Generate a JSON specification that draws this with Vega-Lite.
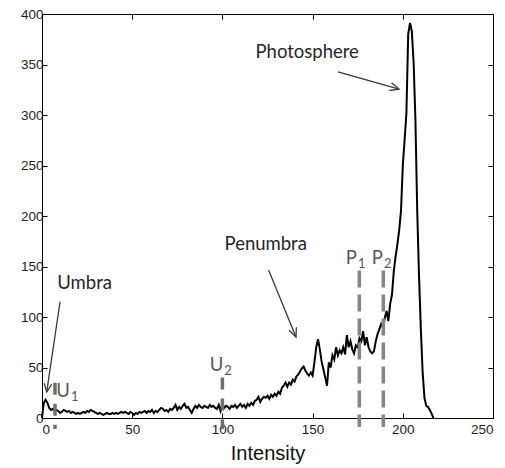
{
  "$schema": "https://vega.github.io/schema/vega-lite/v6.json",
  "width": 451,
  "height": 404,
  "autosize": {"type": "none"},
  "padding": {"left": 42, "top": 14, "right": 12, "bottom": 50},
  "background": "white",
  "config": {
    "view": {"stroke": null},
    "axis": {"grid": false, "domainColor": "#000000", "tickColor": "#000000", "labelColor": "#1e1e1e", "labelFont": "Liberation Sans", "labelFontSize": 13.5, "titleFont": "Liberation Sans", "titleFontWeight": "normal", "titleColor": "#111111"}
  },
  "datasets": {
    "hist": [
      {"intensity":0,"count":0},{"intensity":1,"count":15},{"intensity":2,"count":18},{"intensity":3,"count":15},{"intensity":4,"count":10},
      {"intensity":5,"count":8},{"intensity":6,"count":9},{"intensity":7,"count":7},{"intensity":8,"count":8},{"intensity":9,"count":7},
      {"intensity":10,"count":5},{"intensity":11,"count":6},{"intensity":12,"count":8},{"intensity":13,"count":7},{"intensity":14,"count":6},
      {"intensity":15,"count":7},{"intensity":16,"count":5},{"intensity":17,"count":6},{"intensity":18,"count":5},{"intensity":19,"count":4},
      {"intensity":20,"count":5},{"intensity":21,"count":4},{"intensity":22,"count":5},{"intensity":23,"count":6},{"intensity":24,"count":5},
      {"intensity":25,"count":7},{"intensity":26,"count":6},{"intensity":27,"count":8},{"intensity":28,"count":7},{"intensity":29,"count":6},
      {"intensity":30,"count":5},{"intensity":31,"count":4},{"intensity":32,"count":5},{"intensity":33,"count":4},{"intensity":34,"count":3},
      {"intensity":35,"count":4},{"intensity":36,"count":5},{"intensity":37,"count":4},{"intensity":38,"count":4},{"intensity":39,"count":5},
      {"intensity":40,"count":4},{"intensity":41,"count":5},{"intensity":42,"count":4},{"intensity":43,"count":5},{"intensity":44,"count":6},
      {"intensity":45,"count":5},{"intensity":46,"count":6},{"intensity":47,"count":5},{"intensity":48,"count":4},{"intensity":49,"count":6},
      {"intensity":50,"count":5},{"intensity":51,"count":3},{"intensity":52,"count":5},{"intensity":53,"count":4},{"intensity":54,"count":6},
      {"intensity":55,"count":5},{"intensity":56,"count":6},{"intensity":57,"count":7},{"intensity":58,"count":5},{"intensity":59,"count":7},
      {"intensity":60,"count":6},{"intensity":61,"count":8},{"intensity":62,"count":5},{"intensity":63,"count":7},{"intensity":64,"count":6},
      {"intensity":65,"count":8},{"intensity":66,"count":10},{"intensity":67,"count":9},{"intensity":68,"count":7},{"intensity":69,"count":8},
      {"intensity":70,"count":6},{"intensity":71,"count":9},{"intensity":72,"count":8},{"intensity":73,"count":10},{"intensity":74,"count":13},
      {"intensity":75,"count":8},{"intensity":76,"count":11},{"intensity":77,"count":9},{"intensity":78,"count":12},{"intensity":79,"count":14},
      {"intensity":80,"count":10},{"intensity":81,"count":11},{"intensity":82,"count":8},{"intensity":83,"count":5},{"intensity":84,"count":9},
      {"intensity":85,"count":12},{"intensity":86,"count":10},{"intensity":87,"count":13},{"intensity":88,"count":11},{"intensity":89,"count":10},
      {"intensity":90,"count":12},{"intensity":91,"count":11},{"intensity":92,"count":10},{"intensity":93,"count":13},{"intensity":94,"count":11},
      {"intensity":95,"count":12},{"intensity":96,"count":10},{"intensity":97,"count":9},{"intensity":98,"count":13},{"intensity":99,"count":7},
      {"intensity":100,"count":14},{"intensity":101,"count":10},{"intensity":102,"count":12},{"intensity":103,"count":11},{"intensity":104,"count":9},
      {"intensity":105,"count":12},{"intensity":106,"count":11},{"intensity":107,"count":13},{"intensity":108,"count":10},{"intensity":109,"count":12},
      {"intensity":110,"count":14},{"intensity":111,"count":11},{"intensity":112,"count":13},{"intensity":113,"count":10},{"intensity":114,"count":14},
      {"intensity":115,"count":12},{"intensity":116,"count":15},{"intensity":117,"count":13},{"intensity":118,"count":17},{"intensity":119,"count":18},
      {"intensity":120,"count":21},{"intensity":121,"count":16},{"intensity":122,"count":19},{"intensity":123,"count":21},{"intensity":124,"count":20},
      {"intensity":125,"count":22},{"intensity":126,"count":19},{"intensity":127,"count":23},{"intensity":128,"count":21},{"intensity":129,"count":24},
      {"intensity":130,"count":22},{"intensity":131,"count":26},{"intensity":132,"count":24},{"intensity":133,"count":30},{"intensity":134,"count":32},
      {"intensity":135,"count":35},{"intensity":136,"count":31},{"intensity":137,"count":35},{"intensity":138,"count":33},{"intensity":139,"count":38},
      {"intensity":140,"count":36},{"intensity":141,"count":41},{"intensity":142,"count":43},{"intensity":143,"count":46},{"intensity":144,"count":49},
      {"intensity":145,"count":51},{"intensity":146,"count":47},{"intensity":147,"count":44},{"intensity":148,"count":42},{"intensity":149,"count":45},
      {"intensity":150,"count":42},{"intensity":151,"count":55},{"intensity":152,"count":70},{"intensity":153,"count":78},{"intensity":154,"count":68},
      {"intensity":155,"count":56},{"intensity":156,"count":48},{"intensity":157,"count":40},{"intensity":158,"count":32},{"intensity":159,"count":55},
      {"intensity":160,"count":50},{"intensity":161,"count":62},{"intensity":162,"count":58},{"intensity":163,"count":70},{"intensity":164,"count":62},
      {"intensity":165,"count":67},{"intensity":166,"count":64},{"intensity":167,"count":70},{"intensity":168,"count":63},{"intensity":169,"count":82},
      {"intensity":170,"count":70},{"intensity":171,"count":76},{"intensity":172,"count":68},{"intensity":173,"count":64},{"intensity":174,"count":72},
      {"intensity":175,"count":70},{"intensity":176,"count":79},{"intensity":177,"count":76},{"intensity":178,"count":86},{"intensity":179,"count":72},
      {"intensity":180,"count":80},{"intensity":181,"count":70},{"intensity":182,"count":66},{"intensity":183,"count":64},{"intensity":184,"count":66},
      {"intensity":185,"count":76},{"intensity":186,"count":83},{"intensity":187,"count":88},{"intensity":188,"count":93},{"intensity":189,"count":90},
      {"intensity":190,"count":99},{"intensity":191,"count":106},{"intensity":192,"count":96},{"intensity":193,"count":113},{"intensity":194,"count":122},
      {"intensity":195,"count":145},{"intensity":196,"count":160},{"intensity":197,"count":172},{"intensity":198,"count":186},{"intensity":199,"count":205},
      {"intensity":200,"count":250},{"intensity":201,"count":275},{"intensity":202,"count":302},{"intensity":203,"count":380},{"intensity":204,"count":391},
      {"intensity":205,"count":383},{"intensity":206,"count":352},{"intensity":207,"count":295},{"intensity":208,"count":205},{"intensity":209,"count":140},
      {"intensity":210,"count":88},{"intensity":211,"count":45},{"intensity":212,"count":20},{"intensity":213,"count":12},{"intensity":214,"count":11},
      {"intensity":215,"count":8},{"intensity":216,"count":4},{"intensity":217,"count":0}
    ],
    "dashes": [
      {"name":"U1","group":"U","x":7.2,"top":35,"bottom":-11},
      {"name":"U2","group":"U","x":100,"top":40,"bottom":-11},
      {"name":"P1","group":"P","x":175.9,"top":146,"bottom":-9},
      {"name":"P2","group":"P","x":189.2,"top":146,"bottom":-9}
    ],
    "arrows": [
      {"name":"Photosphere","x":164.1,"y":342.6,"x2":197.9,"y2":325.7},
      {"name":"Penumbra","x":125.6,"y":146.5,"x2":140.8,"y2":80.2},
      {"name":"Umbra","x":10.0,"y":115.1,"x2":2.6,"y2":25.7}
    ],
    "labels": [
      {"text":"Photosphere","x":147,"y":362},
      {"text":"Penumbra","x":124,"y":172},
      {"text":"Umbra","x":23.6,"y":133.7}
    ],
    "sublabels": [
      {"base":"P","sub":"1","x":174.6,"y":158},
      {"base":"P","sub":"2","x":189.0,"y":158},
      {"base":"U","sub":"1","x":15.5,"y":27},
      {"base":"U","sub":"2","x":100.5,"y":52.5}
    ]
  },
  "resolve": {"axis": {"x": "independent", "y": "independent"}},
  "layer": [
    {
      "data": {"name": "hist"},
      "mark": {"type": "line", "color": "#000000", "strokeWidth": 2, "interpolate": "linear"},
      "encoding": {
        "x": {"field": "intensity", "type": "quantitative", "scale": {"domain": [0, 250], "nice": false, "zero": false},
              "axis": {"orient": "bottom", "values": [0,50,100,150,200,250], "tickSize": -5, "labelPadding": 9, "title": "Intensity", "titleFontSize": 20, "titlePadding": 8}},
        "y": {"field": "count", "type": "quantitative", "scale": {"domain": [0, 400], "nice": false},
              "axis": {"orient": "left", "values": [0,50,100,150,200,250,300,350,400], "tickSize": -5, "labelPadding": 4, "title": null}}
      }
    },
    {
      "data": {"name": "dashes"},
      "transform": [{"filter": "datum.group === 'P'"}],
      "mark": {"type": "rule", "color": "#858585", "strokeWidth": 3.5, "strokeDash": [17, 7], "strokeCap": "butt", "clip": false},
      "encoding": {
        "x": {"field": "x", "type": "quantitative", "axis": {"orient": "top", "values": [0,50,100,150,200,250], "tickSize": -5, "labels": false, "title": null}},
        "y": {"field": "top", "type": "quantitative", "axis": {"orient": "right", "values": [0,50,100,150,200,250,300,350,400], "tickSize": -5, "labels": false, "title": null}},
        "y2": {"field": "bottom"}
      }
    },
    {
      "data": {"name": "dashes"},
      "transform": [{"filter": "datum.group === 'U'"}],
      "mark": {"type": "rule", "color": "#6e6e6e", "strokeWidth": 3.5, "strokeDash": [12, 9], "strokeCap": "butt", "clip": false},
      "encoding": {
        "x": {"field": "x", "type": "quantitative", "axis": null},
        "y": {"field": "top", "type": "quantitative", "axis": null},
        "y2": {"field": "bottom"}
      }
    },
    {
      "data": {"name": "arrows"},
      "mark": {"type": "rule", "color": "#3a3a3a", "strokeWidth": 1.3},
      "encoding": {
        "x": {"field": "x", "type": "quantitative", "axis": null},
        "y": {"field": "y", "type": "quantitative", "axis": null},
        "x2": {"field": "x2"},
        "y2": {"field": "y2"}
      }
    },
    {
      "data": {"name": "arrows"},
      "transform": [{"filter": "datum.name === 'Photosphere'"}],
      "mark": {"type": "point", "shape": "M-1,-0.45L0,0L-1,0.45", "filled": false, "stroke": "#3a3a3a", "strokeWidth": 1.3, "size": 320, "angle": 15.6, "opacity": 1},
      "encoding": {
        "x": {"field": "x2", "type": "quantitative", "axis": null},
        "y": {"field": "y2", "type": "quantitative", "axis": null}
      }
    },
    {
      "data": {"name": "arrows"},
      "transform": [{"filter": "datum.name === 'Penumbra'"}],
      "mark": {"type": "point", "shape": "M-1,-0.45L0,0L-1,0.45", "filled": false, "stroke": "#3a3a3a", "strokeWidth": 1.3, "size": 320, "angle": 67.9, "opacity": 1},
      "encoding": {
        "x": {"field": "x2", "type": "quantitative", "axis": null},
        "y": {"field": "y2", "type": "quantitative", "axis": null}
      }
    },
    {
      "data": {"name": "arrows"},
      "transform": [{"filter": "datum.name === 'Umbra'"}],
      "mark": {"type": "point", "shape": "M-1,-0.45L0,0L-1,0.45", "filled": false, "stroke": "#3a3a3a", "strokeWidth": 1.3, "size": 280, "angle": 98.4, "opacity": 1},
      "encoding": {
        "x": {"field": "x2", "type": "quantitative", "axis": null},
        "y": {"field": "y2", "type": "quantitative", "axis": null}
      }
    },
    {
      "data": {"name": "labels"},
      "mark": {"type": "text", "font": "Lato", "fontSize": 18.5, "color": "#262626", "align": "center", "baseline": "middle"},
      "encoding": {
        "x": {"field": "x", "type": "quantitative", "axis": null},
        "y": {"field": "y", "type": "quantitative", "axis": null},
        "text": {"field": "text"}
      }
    },
    {
      "data": {"name": "sublabels"},
      "mark": {"type": "text", "font": "Lato", "fontSize": 18.5, "color": "#595959", "align": "right", "baseline": "middle"},
      "encoding": {
        "x": {"field": "x", "type": "quantitative", "axis": null},
        "y": {"field": "y", "type": "quantitative", "axis": null},
        "text": {"field": "base"}
      }
    },
    {
      "data": {"name": "sublabels"},
      "mark": {"type": "text", "font": "Lato", "fontSize": 13, "color": "#595959", "align": "left", "baseline": "middle", "dx": 1, "dy": 6},
      "encoding": {
        "x": {"field": "x", "type": "quantitative", "axis": null},
        "y": {"field": "y", "type": "quantitative", "axis": null},
        "text": {"field": "sub"}
      }
    }
  ]
}
